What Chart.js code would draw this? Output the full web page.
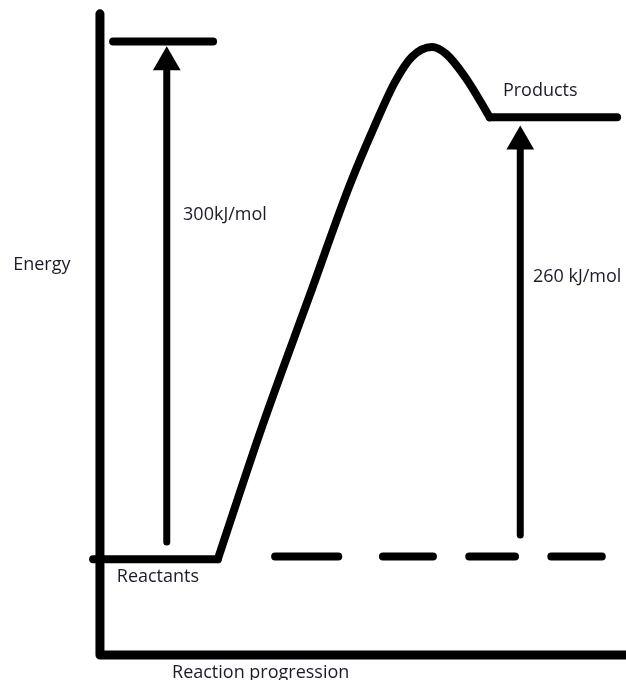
<!DOCTYPE html>
<html>
<head>
<meta charset="utf-8">
<script src="https://cdn.jsdelivr.net/npm/chart.js@4/dist/chart.umd.min.js"></script>
<style>
  html, body { margin: 0; padding: 0; background: #fff; }
  canvas { display: block; }
</style>
</head>
<body>
<canvas id="energyChart" width="626" height="680"></canvas>
<script>
// reaction progress (arbitrary units) and energy (kJ/mol, reactants = 0)
const axisProgress = [0, 100];
const axisEnergy = [-55.5, 316];

const levelStart = [2.5, -1.3, 74.1];
const levelEnd = [21.5, 22.4, 98.3];
const levelEnergy = [300, 0, 256];

const pathProgress = [22.4, 30.8, 39.9, 47.5, 52.3, 56.1, 59.3, 63.1, 65.8, 69.8, 74.1];
const pathEnergy = [0, 76.6, 153.1, 216.9, 251.7, 276.6, 291.1, 296.8, 292.8, 277.7, 256];

const arrowProgress = [12.7, 79.9];
const arrowFrom = [10, 14];
const arrowTo = [288, 242];

const dashStart = [33.3, 53.8, 70.2, 85.8];
const dashEnd = [45.3, 63.3, 78.9, 95.4];
const dashEnergy = 1.5;

const labelText = ["Energy", "300kJ/mol", "Products", "260 kJ/mol", "Reactants", "Reaction progression"];
const labelProgress = [-16.5, 15.8, 76.6, 82.3, 3.2, 13.7];
const labelEnergy = [170.4, 199.3, 271.3, 163.5, -10.3, -66];

function line(data, width, extra) {
  return Object.assign({
    data: data,
    borderColor: "#000",
    backgroundColor: "#000",
    borderWidth: width,
    borderCapStyle: "round",
    borderJoinStyle: "round",
    pointRadius: 0,
    tension: 0,
    fill: false
  }, extra || {});
}

const datasets = [];

// axes
datasets.push(line([
  {x: axisProgress[0], y: axisEnergy[1]},
  {x: axisProgress[0], y: axisEnergy[0]},
  {x: axisProgress[1], y: axisEnergy[0]}
], 9));

// energy levels
for (let i = 0; i < levelEnergy.length; i++) {
  datasets.push(line([
    {x: levelStart[i], y: levelEnergy[i]},
    {x: levelEnd[i], y: levelEnergy[i]}
  ], 8));
}

// reaction path
datasets.push(line(pathProgress.map((p, i) => ({x: p, y: pathEnergy[i]})), 8, {
  cubicInterpolationMode: "monotone"
}));

// arrows
for (let i = 0; i < arrowProgress.length; i++) {
  datasets.push(line([
    {x: arrowProgress[i], y: arrowFrom[i]},
    {x: arrowProgress[i], y: arrowTo[i]}
  ], 7, {
    pointStyle: "triangle",
    pointRadius: [0, 13],
    pointBorderWidth: 3,
    pointBackgroundColor: "#000",
    pointBorderColor: "#000"
  }));
}

// dashed reactants level
const dashData = [];
for (let i = 0; i < dashStart.length; i++) {
  dashData.push({x: dashStart[i], y: dashEnergy});
  dashData.push({x: dashEnd[i], y: dashEnergy});
  dashData.push({x: dashEnd[i], y: null});
}
datasets.push(line(dashData, 8, {spanGaps: false}));

const labelPlugin = {
  id: "labels",
  afterDatasetsDraw(chart) {
    const ctx = chart.ctx;
    const xs = chart.scales.x, ys = chart.scales.y;
    ctx.save();
    ctx.fillStyle = "#1b1b2a";
    ctx.font = "18px 'Open Sans'";
    ctx.textAlign = "left";
    ctx.textBaseline = "middle";
    labelText.forEach((t, i) => {
      ctx.fillText(t, xs.getPixelForValue(labelProgress[i]), ys.getPixelForValue(labelEnergy[i]));
    });
    ctx.restore();
  }
};

new Chart(document.getElementById("energyChart"), {
  type: "line",
  data: {datasets: datasets},
  options: {
    responsive: false,
    animation: false,
    devicePixelRatio: 1,
    layout: {padding: 0, autoPadding: false},
    plugins: {legend: {display: false}, tooltip: {enabled: false}},
    scales: {
      x: {type: "linear", min: -19, max: 100, display: false},
      y: {type: "linear", min: -70, max: 324, display: false}
    }
  },
  plugins: [labelPlugin]
});
</script>
</body>
</html>
